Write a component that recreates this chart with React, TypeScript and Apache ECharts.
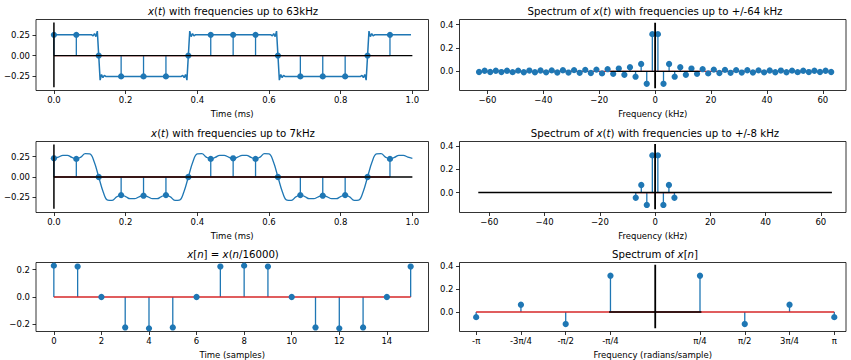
import React, { useEffect, useRef } from 'react';
import * as echarts from 'echarts';

const C0 = '#1f77b4';
const C3 = '#d62728';
const FONT = 'DejaVu Sans';

// ---------- time-domain samples ----------
const sampleTimesMs = [0, 0.0625, 0.125, 0.1875, 0.25, 0.3125, 0.375, 0.4375, 0.5, 0.5625, 0.625, 0.6875, 0.75, 0.8125, 0.875, 0.9375];
const sampleIndex = [0, 1, 2, 3, 4, 5, 6, 7, 8, 9, 10, 11, 12, 13, 14, 15];
const samples63 = [0.25, 0.25, 0, -0.25, -0.25, -0.25, 0, 0.25, 0.25, 0.25, 0, -0.25, -0.25, -0.25, 0, 0.25];
const samples7 = [0.23, 0.223, 0, -0.223, -0.23, -0.223, 0, 0.223, 0.23, 0.223, 0, -0.223, -0.23, -0.223, 0, 0.223];

// ---------- continuous curves ----------
const curve63: [number, number][] = [
  [0, 0.25],
  [0.1055, 0.25], [0.1094, 0.237], [0.1133, 0.265], [0.1172, 0.228], [0.1211, 0.295], [0.125, 0], [0.1289, -0.295], [0.1328, -0.228], [0.1367, -0.265], [0.1406, -0.237], [0.1445, -0.25],
  [0.3555, -0.25], [0.3594, -0.237], [0.3633, -0.265], [0.3672, -0.228], [0.3711, -0.295], [0.375, 0], [0.3789, 0.295], [0.3828, 0.228], [0.3867, 0.265], [0.3906, 0.237], [0.3945, 0.25],
  [0.6055, 0.25], [0.6094, 0.237], [0.6133, 0.265], [0.6172, 0.228], [0.6211, 0.295], [0.625, 0], [0.6289, -0.295], [0.6328, -0.228], [0.6367, -0.265], [0.6406, -0.237], [0.6445, -0.25],
  [0.8555, -0.25], [0.8594, -0.237], [0.8633, -0.265], [0.8672, -0.228], [0.8711, -0.295], [0.875, 0], [0.8789, 0.295], [0.8828, 0.228], [0.8867, 0.265], [0.8906, 0.237], [0.8945, 0.25],
  [0.9961, 0.25],
];

const curve7StepMs = 0.0125;
const curve7 = [
  0.2304, 0.2442, 0.2671, 0.2669, 0.2407, 0.2229, 0.2448, 0.2872, 0.2847, 0.1835,
  0, -0.1835, -0.2847, -0.2872, -0.2448, -0.2229, -0.2407, -0.2669, -0.2671, -0.2442,
  -0.2304, -0.2442, -0.2671, -0.2669, -0.2407, -0.2229, -0.2448, -0.2872, -0.2847, -0.1835,
  0, 0.1835, 0.2847, 0.2872, 0.2448, 0.2229, 0.2407, 0.2669, 0.2671, 0.2442,
  0.2304, 0.2442, 0.2671, 0.2669, 0.2407, 0.2229, 0.2448, 0.2872, 0.2847, 0.1835,
  0, -0.1835, -0.2847, -0.2872, -0.2448, -0.2229, -0.2407, -0.2669, -0.2671, -0.2442,
  -0.2304, -0.2442, -0.2671, -0.2669, -0.2407, -0.2229, -0.2448, -0.2872, -0.2847, -0.1835,
  0, 0.1835, 0.2847, 0.2872, 0.2448, 0.2229, 0.2407, 0.2669, 0.2671, 0.2442,
  0.2304,
];

// ---------- spectra ----------
const spec64Freq = [
  -63, -61, -59, -57, -55, -53, -51, -49, -47, -45, -43, -41, -39, -37, -35, -33,
  -31, -29, -27, -25, -23, -21, -19, -17, -15, -13, -11, -9, -7, -5, -3, -1,
  1, 3, 5, 7, 9, 11, 13, 15, 17, 19, 21, 23, 25, 27, 29, 31,
  33, 35, 37, 39, 41, 43, 45, 47, 49, 51, 53, 55, 57, 59, 61, 63,
];
const spec64Val = [
  -0.0051, 0.0052, -0.0054, 0.0056, -0.0058, 0.006, -0.0062, 0.0065, -0.0068, 0.0071, -0.0074, 0.0078, -0.0082, 0.0086, -0.0091, 0.0096,
  -0.010, 0.011, -0.012, 0.013, -0.014, 0.015, -0.017, 0.019, -0.021, 0.024, -0.029, 0.035, -0.045, 0.064, -0.106, 0.318,
  0.318, -0.106, 0.064, -0.045, 0.035, -0.029, 0.024, -0.021, 0.019, -0.017, 0.015, -0.014, 0.013, -0.012, 0.011, -0.010,
  0.0096, -0.0091, 0.0086, -0.0082, 0.0078, -0.0074, 0.0071, -0.0068, 0.0065, -0.0062, 0.006, -0.0058, 0.0056, -0.0054, 0.0052, -0.0051,
];
const spec8Freq = [-7, -5, -3, -1, 1, 3, 5, 7];
const spec8Val = [-0.045, 0.064, -0.106, 0.318, 0.318, -0.106, 0.064, -0.045];
const dtftFreq = [-Math.PI, -3 * Math.PI / 4, -Math.PI / 2, -Math.PI / 4, Math.PI / 4, Math.PI / 2, 3 * Math.PI / 4, Math.PI];
const dtftVal = [-0.045, 0.064, -0.106, 0.318, 0.318, -0.106, 0.064, -0.045];

// ---------- ticks ----------
const timeTicks = [0, 0.2, 0.4, 0.6, 0.8, 1.0];
const timeLabels = ['0.0', '0.2', '0.4', '0.6', '0.8', '1.0'];
const ampTicks = [-0.25, 0, 0.25];
const ampLabels = ['\u22120.25', '0.00', '0.25'];
const khzTicks = [-60, -40, -20, 0, 20, 40, 60];
const khzLabels = ['\u221260', '\u221240', '\u221220', '0', '20', '40', '60'];
const specTicks = [0, 0.2, 0.4];
const specLabels = ['0.0', '0.2', '0.4'];
const nTicks = [0, 2, 4, 6, 8, 10, 12, 14];
const nLabels = ['0', '2', '4', '6', '8', '10', '12', '14'];
const xnTicks = [-0.2, 0, 0.2];
const xnLabels = ['\u22120.2', '0.0', '0.2'];
const radTicks = dtftFreq;
const radLabels = ['-\u03c0', '-3\u03c0/4', '-\u03c0/2', '-\u03c0/4', '\u03c0/4', '\u03c0/2', '3\u03c0/4', '\u03c0'];

const fmt = (ticks: number[], labels: string[]) => (v: number) => {
  let best = 0;
  for (let i = 1; i < ticks.length; i++) if (Math.abs(ticks[i] - v) < Math.abs(ticks[best] - v)) best = i;
  return labels[best];
};

const tickFont = { fontFamily: FONT, fontSize: 8.5, color: '#000' };

const mkX = (i: number, min: number, max: number, ticks: number[], labels: string[], name: string) => ({
  type: 'value', gridIndex: i, min, max, name, nameLocation: 'middle', nameGap: 18.5,
  nameTextStyle: { ...tickFont },
  axisLine: { show: false, onZero: false },
  axisTick: { show: true, inside: false, length: 3.5, customValues: ticks, lineStyle: { color: '#000', width: 0.8 } },
  axisLabel: { show: true, customValues: ticks, formatter: fmt(ticks, labels), margin: 5, hideOverlap: false, ...tickFont },
  splitLine: { show: false },
});
const mkY = (i: number, min: number, max: number, ticks: number[], labels: string[]) => ({
  type: 'value', gridIndex: i, min, max,
  axisLine: { show: false, onZero: false },
  axisTick: { show: true, inside: false, length: 3.5, customValues: ticks, lineStyle: { color: '#000', width: 0.8 } },
  axisLabel: { show: true, customValues: ticks, formatter: fmt(ticks, labels), margin: 6, hideOverlap: false, ...tickFont },
  splitLine: { show: false },
});

const seg = (i: number, pts: number[][], color: string, width: number, z: number) => ({
  type: 'line', xAxisIndex: i, yAxisIndex: i, data: pts, symbol: 'none', silent: true,
  lineStyle: { color, width }, z,
});
const stems = (i: number, xs: number[], ys: number[]) => ({
  type: 'custom', xAxisIndex: i, yAxisIndex: i, silent: true, z: 3,
  data: xs.map((x, k) => [x, ys[k]]),
  renderItem: (_p: any, api: any) => {
    const a = api.coord([api.value(0), 0]);
    const b = api.coord([api.value(0), api.value(1)]);
    return { type: 'line', shape: { x1: a[0], y1: a[1], x2: b[0], y2: b[1] }, style: { stroke: C0, lineWidth: 1.3 } };
  },
});
const dots = (i: number, xs: number[], ys: number[]) => ({
  type: 'scatter', xAxisIndex: i, yAxisIndex: i, silent: true, z: 4,
  data: xs.map((x, k) => [x, ys[k]]), symbol: 'circle', symbolSize: 6.3,
  itemStyle: { color: C0, opacity: 1 },
});

const titleStyle = { fontFamily: FONT, fontSize: 10.2, fontWeight: 'normal', color: '#000',
  rich: { i: { fontFamily: FONT, fontSize: 10.2, fontStyle: 'italic', color: '#000' } } };
const mkTitle = (text: string, left: number, top: number) => ({ text, left, top, textAlign: 'center', padding: 0, textStyle: titleStyle });

export default function App() {
  const ref = useRef<HTMLDivElement>(null);
  useEffect(() => {
    if (!ref.current) return;
    const chart = echarts.init(ref.current, null, { renderer: 'svg' });
    const gridBox = { show: true, borderColor: '#000', borderWidth: 0.8, backgroundColor: 'rgba(0,0,0,0)' };
    const LW = 392.5, RW = 386.5, H = 71;
    const option: any = {
      animation: false,
      title: [
        mkTitle('{i|x}({i|t}) with frequencies up to 63kHz', 233, 6.5),
        mkTitle('Spectrum of {i|x}({i|t}) with frequencies up to +/-64 kHz', 655, 6.5),
        mkTitle('{i|x}({i|t}) with frequencies up to 7kHz', 233, 128),
        mkTitle('Spectrum of {i|x}({i|t}) with frequencies up to +/-8 kHz', 655, 128),
        mkTitle('{i|x}[{i|n}] = {i|x}({i|n}/16000)', 233, 249),
        mkTitle('Spectrum of {i|x}[{i|n}]', 655, 249),
      ],
      grid: [
        { left: 36, top: 19.5, width: LW, height: H, ...gridBox },
        { left: 459.5, top: 19.5, width: RW, height: H, ...gridBox },
        { left: 36, top: 141.5, width: LW, height: H, ...gridBox },
        { left: 459.5, top: 141.5, width: RW, height: H, ...gridBox },
        { left: 36, top: 262.5, width: LW, height: H, ...gridBox },
        { left: 459.5, top: 262.5, width: RW, height: H, ...gridBox },
      ],
      xAxis: [
        mkX(0, -0.05, 1.045, timeTicks, timeLabels, 'Time (ms)'),
        mkX(1, -70, 68.3, khzTicks, khzLabels, 'Frequency (kHz)'),
        mkX(2, -0.05, 1.045, timeTicks, timeLabels, 'Time (ms)'),
        mkX(3, -70.8, 69.1, khzTicks, khzLabels, 'Frequency (kHz)'),
        mkX(4, -0.75, 15.75, nTicks, nLabels, 'Time (samples)'),
        mkX(5, -3.434, 3.347, radTicks, radLabels, 'Frequency (radians/sample)'),
      ],
      yAxis: [
        mkY(0, -0.42, 0.435, ampTicks, ampLabels),
        mkY(1, -0.163, 0.443, specTicks, specLabels),
        mkY(2, -0.437, 0.437, ampTicks, ampLabels),
        mkY(3, -0.171, 0.437, specTicks, specLabels),
        mkY(4, -0.253, 0.253, xnTicks, xnLabels),
        mkY(5, -0.171, 0.434, specTicks, specLabels),
      ],
      series: [
        // plot 1
        seg(0, curve63, C0, 1.5, 2),
        seg(0, [[0, 0], [0.9375, 0]], C3, 1.3, 3),
        stems(0, sampleTimesMs, samples63),
        dots(0, sampleTimesMs, samples63),
        seg(0, [[0, 0], [1.0, 0]], '#000', 1.4, 5),
        seg(0, [[0, -0.38], [0, 0.4]], '#000', 1.5, 5),
        // plot 2
        seg(1, [[-63, 0], [63, 0]], C3, 1.3, 3),
        stems(1, spec64Freq, spec64Val),
        dots(1, spec64Freq, spec64Val),
        seg(1, [[-16, 0], [16, 0]], '#000', 1.4, 5),
        seg(1, [[0, -0.143], [0, 0.415]], '#000', 1.8, 5),
        // plot 3
        { ...seg(2, curve7.map((v, k) => [k * curve7StepMs, v]), C0, 1.3, 2), smooth: 0.4 },
        seg(2, [[0, 0], [0.9375, 0]], C3, 1.3, 3),
        stems(2, sampleTimesMs, samples7),
        dots(2, sampleTimesMs, samples7),
        seg(2, [[0, 0], [1.0, 0]], '#000', 1.4, 5),
        seg(2, [[0, -0.39], [0, 0.4]], '#000', 1.5, 5),
        // plot 4
        seg(3, [[-7, 0], [7, 0]], C3, 1.3, 3),
        stems(3, spec8Freq, spec8Val),
        dots(3, spec8Freq, spec8Val),
        seg(3, [[-64, 0], [64, 0]], '#000', 1.4, 5),
        seg(3, [[0, -0.143], [0, 0.415]], '#000', 1.8, 5),
        // plot 5
        stems(4, sampleIndex, samples7),
        seg(4, [[0, 0], [15, 0]], C3, 1.3, 3),
        dots(4, sampleIndex, samples7),
        // plot 6
        seg(5, [[-Math.PI, 0], [Math.PI, 0]], C3, 1.3, 3),
        stems(5, dtftFreq, dtftVal),
        dots(5, dtftFreq, dtftVal),
        seg(5, [[-0.81, 0], [0.81, 0]], '#000', 1.4, 5),
        seg(5, [[0, -0.143], [0, 0.415]], '#000', 1.8, 5),
      ],
    };
    chart.setOption(option);
    return () => chart.dispose();
  }, []);
  return <div ref={ref} style={{ position: 'absolute', left: 0, top: 0, width: 851, height: 360, background: '#fff' }} />;
}
